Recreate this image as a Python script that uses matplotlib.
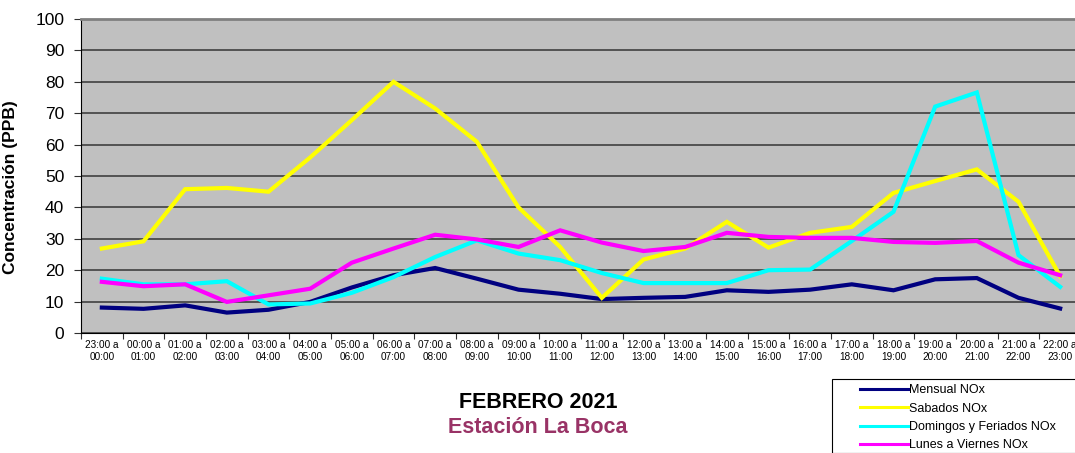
import numpy as np
import matplotlib
matplotlib.use('Agg')
import matplotlib.pyplot as plt
from matplotlib.patches import Rectangle

plt.rcParams['font.family'] = ['Liberation Sans', 'DejaVu Sans']

# Franjas horarias (eje x)
horas = ['23:00 a\n00:00', '00:00 a\n01:00', '01:00 a\n02:00', '02:00 a\n03:00',
         '03:00 a\n04:00', '04:00 a\n05:00', '05:00 a\n06:00', '06:00 a\n07:00',
         '07:00 a\n08:00', '08:00 a\n09:00', '09:00 a\n10:00', '10:00 a\n11:00',
         '11:00 a\n12:00', '12:00 a\n13:00', '13:00 a\n14:00', '14:00 a\n15:00',
         '15:00 a\n16:00', '16:00 a\n17:00', '17:00 a\n18:00', '18:00 a\n19:00',
         '19:00 a\n20:00', '20:00 a\n21:00', '21:00 a\n22:00', '22:00 a\n23:00']

# Concentraciones NOx (PPB)
mensual = [8.1, 7.7, 8.8, 6.5, 7.4, 9.9, 14.5, 18.4, 20.7, 17.3, 13.8, 12.5,
           10.8, 11.2, 11.5, 13.6, 13.1, 13.8, 15.5, 13.6, 17.1, 17.5, 11.2, 7.8]
sabados = [26.9, 29.2, 45.8, 46.2, 45.0, 55.9, 67.8, 80.0, 71.5, 60.9, 40.0, 27.4,
           11.2, 23.4, 26.9, 35.4, 27.2, 31.9, 33.8, 44.6, 48.4, 52.1, 41.8, 18.1]
domingos = [17.3, 15.5, 15.5, 16.5, 9.1, 9.4, 12.8, 17.8, 24.2, 29.5, 25.3, 23.2,
            19.1, 15.9, 15.9, 15.9, 20.0, 20.2, 29.3, 38.6, 72.1, 76.6, 24.8, 14.7]
lunes_viernes = [16.3, 14.9, 15.5, 9.9, 12.0, 14.1, 22.4, 26.9, 31.3, 29.8, 27.4, 32.7,
                 28.8, 26.1, 27.4, 31.9, 30.6, 30.3, 30.3, 29.0, 28.7, 29.3, 22.4, 18.4]

series = [('Mensual NOx', mensual, '#000080'),
          ('Sabados NOx', sabados, '#FFFF00'),
          ('Domingos y Feriados NOx', domingos, '#00FFFF'),
          ('Lunes a Viernes NOx', lunes_viernes, '#FF00FF')]

W, H = 1075, 453
fig = plt.figure(figsize=(W / 100, H / 100), dpi=100)
ax = fig.add_axes([81 / W, (H - 333) / H, 1000 / W, 314 / H])
ax.set_facecolor('#C0C0C0')

x = np.arange(len(horas))
lines = []
for nombre, vals, color in series:
    l, = ax.plot(x, vals, color=color, lw=3, label=nombre, solid_joinstyle='miter')
    lines.append(l)

ax.set_xlim(-0.5, len(horas) - 0.5)
ax.set_ylim(0, 100)
ax.set_yticks(np.arange(0, 101, 10))
ax.yaxis.grid(True, color='#404040', lw=1.2)
ax.set_axisbelow(True)
ax.tick_params(axis='y', labelsize=12.5, length=5, direction='out', color='#303030', pad=7)

# ticks en los limites de cada categoria, etiquetas centradas
ax.set_xticks(np.arange(-0.5, len(horas), 1))
ax.set_xticklabels([])
ax.set_xticks(x, minor=True)
ax.set_xticklabels(horas, minor=True, fontsize=7.2, linespacing=1.2)
ax.tick_params(axis='x', which='major', length=4, direction='out', color='#303030')
ax.tick_params(axis='x', which='minor', length=0, pad=5)

ax.spines['right'].set_visible(False)
ax.spines['top'].set_color('#808080')
ax.spines['top'].set_linewidth(2)
ax.spines['left'].set_color('black')
ax.spines['bottom'].set_color('black')

ax.set_ylabel('Concentración (PPB)', fontsize=12.5, fontweight='bold')
ax.yaxis.set_label_coords(-0.063, 0.465)

fig.text(538 / W, 1 - 408 / H, 'FEBRERO 2021', ha='center', va='baseline',
         fontsize=15.5, fontweight='bold', color='black')
fig.text(538 / W, 1 - 433 / H, 'Estación La Boca', ha='center', va='baseline',
         fontsize=15.5, fontweight='bold', color='#993366')

# cuadro de la leyenda
fig.patches.append(Rectangle((832 / W, 0), 300 / W, (H - 379) / H,
                             transform=fig.transFigure, fill=False,
                             edgecolor='black', lw=0.8))
leg = fig.legend(handles=lines, loc='upper left', bbox_to_anchor=(860 / W, 1 - 384 / H),
                 frameon=False, fontsize=9, handlelength=3.8, handletextpad=0.1,
                 borderpad=0, borderaxespad=0, labelspacing=0.52)
for lh in leg.get_lines():
    lh.set_linewidth(2.2)

fig.savefig('out.png', dpi=100)
